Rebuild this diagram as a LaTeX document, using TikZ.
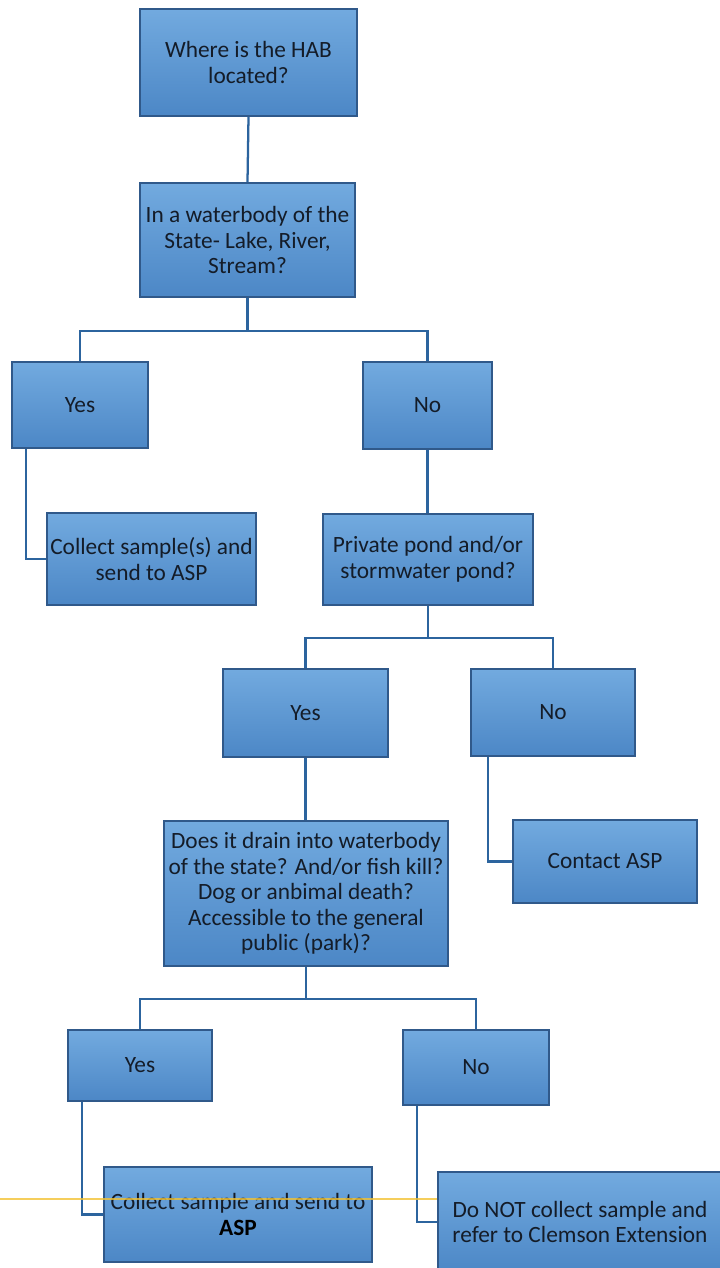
\documentclass[tikz,border=0pt]{standalone}
\usepackage{fontspec}
\setmainfont{Carlito}
\usetikzlibrary{calc}
\usetikzlibrary{positioning}
\definecolor{boxtop}{HTML}{72AADF}
\definecolor{boxbot}{HTML}{4C87C6}
\definecolor{boxline}{HTML}{30598A}
\definecolor{linkcol}{HTML}{2C649E}
\definecolor{txtcol}{HTML}{141C28}
\definecolor{scanline}{HTML}{F2C233}
\tikzset{
    mybox/.style={
        rectangle,          % 矩形方框
        draw=boxline,       % 边框颜色
        line width=1.2pt,
        top color=boxtop,   % 渐变填充
        bottom color=boxbot,
        text=txtcol,
        align=center,
        inner sep=0pt,
        font=\fontsize{17.5}{19.2}\selectfont
    },
    boxwh/.style 2 args={
        minimum width=#1*0.75pt,
        minimum height=#2*0.75pt
    },
    mylink/.style={
        draw=linkcol,
        line width=1.7pt
    }
}

\begin{document}
\begin{tikzpicture}[x=0.75pt, y=-0.75pt]

\useasboundingbox (0,0) rectangle (719,1268);

% 定义方框
\node[mybox, boxwh={217}{107}] (q1) at (248.5,62.5) {Where is the HAB\\located?};
\node[mybox, boxwh={215}{114}] (q2) at (247.5,240) {In a waterbody of the\\State- Lake, River,\\Stream?};

\node[mybox, boxwh={136}{86}] (yes1) at (80,405) {Yes};
\node[mybox, boxwh={129}{87}] (no1) at (427.5,405.5) {No};

\node[mybox, boxwh={209}{92}] (col1) at (151.5,559) {Collect sample(s) and\\send to ASP};
\node[mybox, boxwh={210}{91}] (q3) at (428,559.5) {Private pond and/or\\stormwater pond?};

\node[mybox, boxwh={165}{88}] (yes2) at (305.5,713) {Yes};
\node[mybox, boxwh={164}{87}] (no2) at (553,712.5) {No};

\node[mybox, boxwh={184}{83}] (contact) at (605,861.5) {Contact ASP};
\node[mybox, boxwh={284}{145}] (q4) at (306,893.5) {Does it drain into waterbody\\of the state? And/or fish kill?\\Dog or anbimal death?\\Accessible to the general\\public (park)?};

\node[mybox, boxwh={144}{71}] (yes3) at (140,1065.5) {Yes};
\node[mybox, boxwh={146}{75}] (no3) at (476,1067.5) {No};

\node[mybox, boxwh={268}{95}] (col2) at (238,1214.5) {Collect sample and send to\\\textcolor{black}{\textbf{ASP}}};
\node[mybox, boxwh={284}{100}] (stop) at (580,1222) {Do NOT collect sample and\\refer to Clemson Extension};

% 连线
\draw[mylink] (q1.south) -- (q2.north);
\draw[mylink] (q2.south) -- ++(0,33) coordinate (b1);
\draw[mylink] (b1) -| (yes1.north);
\draw[mylink] (b1) -| (no1.north);
\draw[mylink] ($(yes1.south west)+(15,0)$) |- (col1.west);
\draw[mylink] (no1.south) -- (no1.south |- q3.north);

\draw[mylink] (q3.south) -- ++(0,32) coordinate (b2);
\draw[mylink] (b2) -| (yes2.north);
\draw[mylink] (b2) -| (no2.north);
\draw[mylink] ($(no2.south west)+(18,0)$) |- (contact.west);
\draw[mylink] (yes2.south) -- (yes2.south |- q4.north);

\draw[mylink] (q4.south) -- ++(0,32) coordinate (b3);
\draw[mylink] (b3) -| (yes3.north);
\draw[mylink] (b3) -| (no3.north);
\draw[mylink] ($(yes3.south west)+(15,0)$) |- (col2.west);
\draw[mylink] ($(no3.south west)+(15,0)$) |- (stop.west);

% 黄线
\draw[scanline, line width=0.8pt, opacity=0.8] (0,1199) -- (stop.west |- 0,1199);

\end{tikzpicture}
\end{document}
